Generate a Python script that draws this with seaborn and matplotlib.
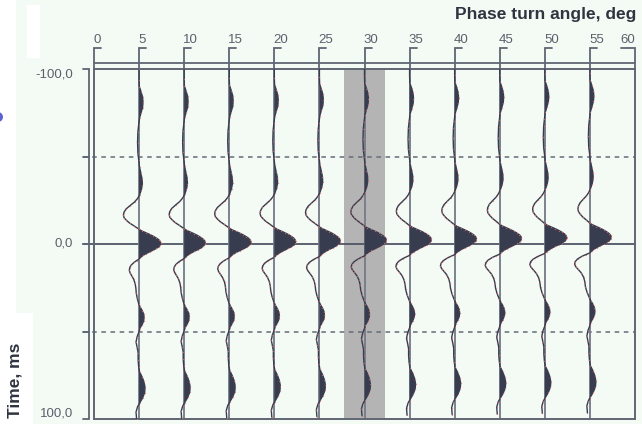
import numpy as np
import matplotlib
matplotlib.use("Agg")
import matplotlib.pyplot as plt
import matplotlib.transforms as mtransforms
from matplotlib.patches import Rectangle, Ellipse
import seaborn as sns

# ---- data -------------------------------------------------------------
# phase turn angle of each trace (deg)
angles = [5, 10, 15, 20, 25, 30, 35, 40, 45, 50, 55]
top_ticks = [0, 5, 10, 15, 20, 25, 30, 35, 40, 45, 50, 55, 60]
top_tick_labels = ["0", "5", "10", "15", "20", "25", "30", "35", "40", "45", "50", "55", "60"]
time_ticks = [-100, -50, 0, 50, 100]
time_labels = {-100: "-100,0", 0: "0,0", 100: "100,0"}
highlight = (27.7, 32.3)          # selected trace band (deg)

# reference wavelet (trace at 5 deg): time (ms) and amplitude (peak = 1)
time_ms = [-100, -94, -90, -87, -84, -81, -78, -75, -72, -68, -64, -58, -52, -48,
           -44, -40, -37, -34, -31, -28,
           -26, -24, -22, -20, -18, -16.5, -15, -13.5, -12, -10.5, -9, -8.4,
           -7.5, -6.5, -5.5, -4.5, -3.5, -2.5, -1.5, -0.5, 0.5, 1.5, 2.5, 3.5,
           4.5, 5.5, 6.5, 7.5, 8.6,
           9.5, 10.5, 12, 13.5, 15, 16.5, 18, 20, 22.5, 25, 28, 31, 34,
           36, 38, 40, 42, 44, 46, 48, 50, 53, 56, 59, 62, 66, 70, 73, 76, 79,
           82, 85, 88, 91, 93, 96, 100]
base_amp = [0.0, 0.0, 0.01, 0.09, 0.16, 0.18, 0.16, 0.09, 0.02, -0.02, -0.055, -0.07,
            -0.055, -0.015, 0.02, 0.09, 0.14, 0.15, 0.105, 0.02,
            -0.07, -0.21, -0.41, -0.60, -0.70, -0.72, -0.69, -0.58, -0.44, -0.25, -0.07, 0.0,
            0.115, 0.30, 0.48, 0.645, 0.78, 0.90, 0.97, 1.00, 0.98, 0.91, 0.80, 0.645,
            0.48, 0.32, 0.185, 0.08, 0.0,
            -0.115, -0.23, -0.36, -0.43, -0.45, -0.415, -0.345, -0.255, -0.185, -0.15,
            -0.13, -0.085, -0.02,
            0.045, 0.14, 0.21, 0.23, 0.21, 0.14, 0.045, 0.0, -0.09, -0.14, -0.09, -0.045,
            -0.045, -0.02, 0.02, 0.14, 0.23, 0.275, 0.255, 0.16, 0.02, -0.07, -0.14, -0.115]

# per-trace lobe amplitudes and time shift of the rotated wavelet
upper_lobe = [-0.72, -0.69, -0.67, -0.655, -0.64, -0.625, -0.61, -0.59, -0.57, -0.56, -0.55]
main_peak = [1.0, 0.97, 1.0, 0.98, 0.955, 1.0, 1.0, 1.0, 1.0, 1.01, 0.98]
lower_lobe = [-0.45, -0.48, -0.53, -0.56, -0.59, -0.61, -0.63, -0.655, -0.67, -0.69, -0.705]
shift_ms = [0.0, -0.3, -0.7, -1.0, -1.4, -1.8, -2.1, -2.5, -2.8, -3.2, -3.5]

# ---- style ------------------------------------------------------------
sns.set_theme(style="white")
plt.rcParams["font.family"] = ["Liberation Sans", "DejaVu Sans"]

BG = "#f4fbf4"
FRAME = "#5f6673"
TRACE_AXIS = "#747a87"
INK = "#373c4e"
LABEL = "#5b606c"
TITLE = "#2f3440"
GAIN = 2.41                       # deg of x axis per unit amplitude

W, H = 642, 424
fig = plt.figure(figsize=(W / 100, H / 100), dpi=100)
fig.patch.set_facecolor(BG)

# white margin pieces on the left
for (x0, y0, w, h) in [(0, 0, 16, 424), (0, 313, 33, 111), (27, 5, 13, 53)]:
    fig.add_artist(Rectangle((x0 / W, 1 - (y0 + h) / H), w / W, h / H,
                             transform=fig.transFigure, color="white", lw=0, zorder=-2))
fig.add_artist(Ellipse((-2 / W, 1 - 117 / H), 10 / W, 10 / H, transform=fig.transFigure,
                       color="#5d63d6", lw=0, zorder=-1))

ax = fig.add_axes([94 / W, 1 - 419 / H, 541 / W, 350 / H])
ax.set_facecolor(BG)
ax.set_xlim(0, 60)
ax.set_ylim(100, -100)
ax.set_xticks([])
ax.set_yticks([])
for sp in ax.spines.values():
    sp.set_color(FRAME)
    sp.set_linewidth(1.4)

# highlighted trace
ax.axvspan(*highlight, color="#b4b4b4", lw=0, zorder=1)

# time lines: zero line and dashed +-50 ms, running out to the left axis
ax.plot([-1.25, 60], [0, 0], color="#4f5565", lw=1.3, zorder=2, clip_on=False)
for tv in (-50, 50):
    ax.plot([-1.25, 60], [tv, tv], color="#656b78", lw=1.1, ls=(0, (3, 3)),
            zorder=2, clip_on=False)

# left time axis
ax.plot([-0.55, -0.55], [-100, 100], color=FRAME, lw=1.3, clip_on=False)
for tv in time_ticks:
    ax.plot([-1.25, -0.55], [tv, tv], color=FRAME, lw=1.3, clip_on=False)
for tv, txt in time_labels.items():
    ypos = tv - np.sign(tv) * 3.4
    ax.text(-2.3, ypos, txt, ha="right", va="center", fontsize=9.5, color=LABEL)

# top angle axis with hooked ticks
tr = mtransforms.blended_transform_factory(ax.transData, ax.transAxes)
y_line, y_tick, y_lab = 1.0163, 1.059, 1.084
ax.plot([0, 60], [y_line, y_line], color=FRAME, lw=1.3, transform=tr, clip_on=False)
for v, lab in zip(top_ticks, top_tick_labels):
    hook = 0.78 if v < 60 else -1.55
    ax.plot([v, v, v + hook], [1.0, y_tick, y_tick], color=FRAME, lw=1.3,
            transform=tr, clip_on=False, solid_joinstyle="miter")
    if v < 60:
        ax.text(v - 0.1, y_lab, lab, ha="left", va="center", fontsize=9.5,
                color=LABEL, transform=tr)
    else:
        ax.text(v + 0.05, y_lab, lab, ha="right", va="center", fontsize=9.5,
                color=LABEL, transform=tr)

# wiggle traces with variable-area fill
t = np.array(time_ms, dtype=float)
a = np.array(base_amp, dtype=float)
seg_up = (t > -28) & (t < -8.4)
seg_pk = (t >= -8.4) & (t <= 8.6)
seg_lo = (t > 8.6) & (t < 35)

for i, ang in enumerate(angles):
    ax.plot([ang, ang], [-100, 100], color=TRACE_AXIS, lw=1.3, zorder=2)
    amp = a.copy()
    amp[seg_up] *= upper_lobe[i] / upper_lobe[0]
    amp[seg_pk] *= main_peak[i] / main_peak[0]
    amp[seg_lo] *= lower_lobe[i] / lower_lobe[0]
    tt = t + shift_ms[i]
    xx = ang + GAIN * amp
    ax.fill_betweenx(tt, ang, xx, where=xx >= ang, interpolate=True,
                     color=INK, lw=0, zorder=3)
    sns.lineplot(x=xx, y=tt, sort=False, estimator=None, color=INK, lw=1.0,
                 ax=ax, zorder=4, legend=False)
    ax.scatter(xx, tt, s=0.9, color="#e36b6b", alpha=0.75, lw=0, zorder=5)

ax.set_xlim(0, 60)
ax.set_ylim(100, -100)
ax.set_xlabel("")
ax.set_ylabel("")

fig.text(636 / W, 1 - 15 / H, "Phase turn angle, deg", ha="right", va="center",
         fontsize=12.5, fontweight="bold", color=TITLE)
fig.text(15 / W, 1 - 418 / H, "Time, ms", rotation=90, ha="center", va="bottom",
         fontsize=12.5, fontweight="bold", color=TITLE)

fig.savefig("out.png", dpi=100, facecolor=BG)
